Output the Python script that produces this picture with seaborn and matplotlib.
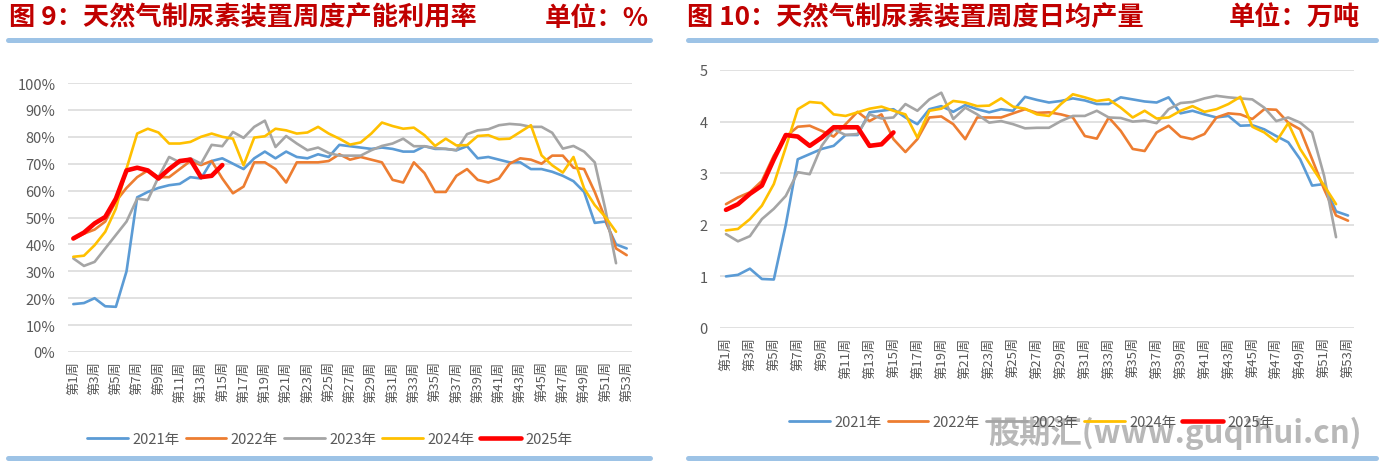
import matplotlib
matplotlib.use('Agg')
import matplotlib.pyplot as plt
import seaborn as sns
import pandas as pd
from matplotlib.lines import Line2D

# week labels / series names
weeks = ['第%d周' % i for i in range(1, 54)]
years = ['2021年', '2022年', '2023年', '2024年', '2025年']
colors = ['#5B9BD5', '#ED7D31', '#A5A5A5', '#FFC000', '#FF0000']

# 图9 天然气制尿素装置周度产能利用率 (%)
util_2021 = [17.8, 18.2, 20, 17, 16.8, 30, 57.5, 59.5, 61, 62, 62.5, 65, 64.5, 71, 72,
             70, 68, 72, 74.5, 72, 74.5, 72.5, 72, 73.5, 72.5, 77, 76.5, 76, 75.5, 76,
             75.5, 74.5, 74.5, 76.5, 75.5, 75.5, 75, 76.5, 72, 72.5, 71.5, 70.5, 70.5,
             68, 68, 67, 65.5, 63.5, 59.5, 48, 48.5, 40, 38.5]
util_2022 = [42, 44, 45.5, 48.5, 56, 61, 65, 67.5, 65, 65, 68, 71, 69.5, 71, 64.5,
             59, 61.5, 70.5, 70.5, 68, 63, 70.5, 70.5, 70.5, 71, 73.5, 71.5, 72.5, 71.5,
             70.5, 64, 63, 70.5, 66.5, 59.5, 59.5, 65.5, 68, 64, 63, 64.5, 70, 72, 71.5,
             70, 73, 73, 68.5, 68, 59.5, 49.5, 38.5, 36]
util_2023 = [34.8, 32, 33.5, 38.5, 43.5, 48.5, 57, 56.5, 65, 72.5, 70.5, 72, 70, 77,
             76.5, 81.8, 79.6, 83.7, 86, 76.2, 80.3, 77.5, 75, 76, 74, 73, 73, 73, 75,
             76.6, 77.5, 79.3, 76.5, 76.5, 75.8, 75.5, 75, 81, 82.4, 82.8, 84.3, 84.8,
             84.5, 83.7, 83.7, 81.5, 75.6, 76.6, 74.5, 70.5, 53, 33]
util_2024 = [35.4, 35.8, 39.7, 44.7, 53.3, 68.2, 81.2, 83, 81.6, 77.5, 77.5, 78.1, 80,
             81.2, 80, 79.3, 69.4, 79.7, 80.2, 83, 82.4, 81.2, 81.6, 83.7, 81.2, 79.3,
             77.1, 77.9, 81.2, 85.3, 84, 83, 83.4, 80.6, 76.6, 79.3, 76.8, 76.9, 80.3,
             80.6, 79.1, 79.3, 81.8, 84.3, 73.1, 69.4, 66.7, 72.5, 60.8, 54.6, 50.2, 44.7]
util_2025 = [42.2, 44.4, 47.8, 50.2, 57, 67.5, 68.5, 67.5, 64.5, 68, 71, 71.5, 65, 65.5, 69.5]

# 图10 天然气制尿素装置周度日均产量 (万吨)
prod_2021 = [1.0, 1.03, 1.15, 0.95, 0.94, 2.0, 3.27, 3.37, 3.47, 3.53, 3.74, 3.74, 4.18,
             4.21, 4.24, 4.08, 3.95, 4.24, 4.3, 4.19, 4.32, 4.24, 4.18, 4.24, 4.21, 4.48,
             4.42, 4.37, 4.4, 4.45, 4.41, 4.34, 4.34, 4.47, 4.43, 4.39, 4.37, 4.47, 4.16,
             4.21, 4.14, 4.08, 4.11, 3.92, 3.93, 3.85, 3.72, 3.6, 3.27, 2.76, 2.79, 2.26, 2.18]
prod_2022 = [2.4, 2.53, 2.63, 2.85, 3.34, 3.71, 3.9, 3.92, 3.82, 3.71, 3.95, 4.19, 4.01,
             4.14, 3.66, 3.41, 3.66, 4.08, 4.1, 3.95, 3.66, 4.08, 4.08, 4.08, 4.16, 4.24,
             4.17, 4.18, 4.14, 4.08, 3.72, 3.67, 4.08, 3.82, 3.47, 3.43, 3.79, 3.92, 3.71,
             3.66, 3.76, 4.08, 4.16, 4.14, 4.05, 4.24, 4.23, 3.98, 3.85, 3.27, 2.69, 2.18, 2.08]
prod_2023 = [1.82, 1.68, 1.78, 2.11, 2.31, 2.56, 3.02, 2.98, 3.53, 3.85, 3.74, 3.76, 4.14,
             4.06, 4.08, 4.34, 4.21, 4.43, 4.56, 4.05, 4.27, 4.14, 3.98, 4.01, 3.95, 3.87,
             3.88, 3.88, 4.01, 4.11, 4.11, 4.21, 4.08, 4.07, 4.0, 4.02, 3.97, 4.24, 4.36,
             4.38, 4.45, 4.5, 4.47, 4.45, 4.43, 4.27, 4.01, 4.08, 3.98, 3.79, 2.95, 1.76]
prod_2024 = [1.89, 1.92, 2.11, 2.37, 2.79, 3.5, 4.24, 4.38, 4.36, 4.14, 4.11, 4.18, 4.25,
             4.29, 4.21, 4.14, 3.69, 4.21, 4.25, 4.4, 4.37, 4.3, 4.31, 4.45, 4.29, 4.25,
             4.14, 4.11, 4.34, 4.53, 4.47, 4.4, 4.43, 4.27, 4.08, 4.21, 4.06, 4.08, 4.21,
             4.3, 4.19, 4.24, 4.34, 4.48, 3.9, 3.79, 3.61, 3.97, 3.47, 3.11, 2.76, 2.4]
prod_2025 = [2.29, 2.4, 2.6, 2.76, 3.27, 3.74, 3.71, 3.53, 3.69, 3.89, 3.89, 3.89, 3.53, 3.56, 3.79]

util = [util_2021, util_2022, util_2023, util_2024, util_2025]
prod = [prod_2021, prod_2022, prod_2023, prod_2024, prod_2025]

sns.set_style('white')
plt.rcParams['font.family'] = ['Noto Sans CJK SC', 'DejaVu Sans']

W, H = 1379, 464
fig = plt.figure(figsize=(W / 100, H / 100), dpi=100)


def fx(px):
    return px / W


def fy(py):
    return 1 - py / H


def draw_panel(ax, series, ymax, step, fmt):
    for yr, vals, c in zip(years, series, colors):
        d = pd.DataFrame({'wk': range(len(vals)), 'v': vals})
        lw = 3.3 if yr == '2025年' else 1.9
        sns.lineplot(data=d, x='wk', y='v', color=c, linewidth=lw, ax=ax, zorder=3 if yr == '2025年' else 2)
    ax.set_xlim(-0.5, 52.5)
    ax.set_ylim(0, ymax)
    ax.set_yticks([i * step for i in range(int(round(ymax / step)) + 1)])
    ax.set_yticklabels([fmt(t) for t in ax.get_yticks()], color='#595959', fontsize=10.5)
    ax.set_xticks(range(0, 53, 2))
    ax.set_xticklabels(weeks[::2], rotation=90, color='#595959', fontsize=9.5)
    ax.tick_params(axis='both', length=0)
    ax.tick_params(axis='y', pad=9)
    ax.tick_params(axis='x', pad=6)
    ax.grid(axis='y', color='#D9D9D9', linewidth=1.1)
    ax.set_axisbelow(True)
    for s in ax.spines.values():
        s.set_visible(False)
    ax.set_xlabel('')
    ax.set_ylabel('')


ax1 = fig.add_axes([fx(68), fy(353), fx(632 - 68), (353 - 84) / H])
draw_panel(ax1, util, 100, 10, lambda t: '%d%%' % t)

ax2 = fig.add_axes([fx(720), fy(329), fx(1354 - 720), (329 - 71) / H])
draw_panel(ax2, prod, 5, 1, lambda t: '%d' % t)

# titles
title_kw = dict(color='#C00000', fontsize=18.9, fontweight='bold', va='center')
fig.text(fx(9), fy(18), '图 9：天然气制尿素装置周度产能利用率', ha='left', **title_kw)
fig.text(fx(649), fy(18), '单位：%', ha='right', **title_kw)
fig.text(fx(687), fy(18), '图 10：天然气制尿素装置周度日均产量', ha='left', **title_kw)
fig.text(fx(1360), fy(18), '单位：万吨', ha='right', **title_kw)

# blue rules
for x0, x1 in [(8, 650), (688, 1376)]:
    for yy in (41, 459):
        fig.add_artist(Line2D([fx(x0), fx(x1)], [fy(yy), fy(yy)], color='#9DC3E6', linewidth=3.6))

# legends
handles = [Line2D([0], [0], color=c, linewidth=3.3 if i == 4 else 2) for i, c in enumerate(colors)]
leg_kw = dict(ncol=5, frameon=False, fontsize=10.5, handlelength=2.8, handletextpad=0.3,
              columnspacing=0.4, labelcolor='#595959', loc='center')
fig.legend(handles, years, bbox_to_anchor=(fx(330), fy(440)), **leg_kw)
fig.legend(handles, years, bbox_to_anchor=(fx(1032), fy(423)), **leg_kw)

# watermark
fig.text(fx(1362), fy(433), '股期汇(www.guqihui.cn)', ha='right', va='center', fontsize=22.5,
         fontweight='bold', style='italic', color='#A6A6A6', alpha=0.8,
         family=['Noto Sans CJK SC', 'DejaVu Sans'])

fig.savefig('out.png', dpi=100)
